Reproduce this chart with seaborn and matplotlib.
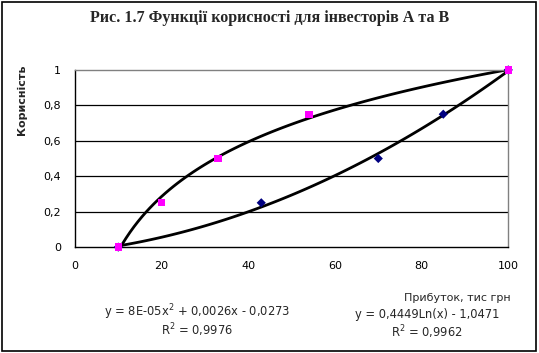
import matplotlib
matplotlib.use("Agg")
import matplotlib.pyplot as plt
import numpy as np
import pandas as pd
import seaborn as sns

# investor A (concave, log trend) and investor B (convex, quadratic trend)
profit_a = [10, 20, 33, 54, 100]
utility_a = [0.0, 0.25, 0.5, 0.75, 1.0]
profit_b = [10, 43, 70, 85, 100]
utility_b = [0.0, 0.25, 0.5, 0.75, 1.0]

x_ticks = [0, 20, 40, 60, 80, 100]
y_ticks = [0, 0.2, 0.4, 0.6, 0.8, 1.0]
y_tick_labels = ["0", "0,2", "0,4", "0,6", "0,8", "1"]

title = "Рис. 1.7 Функції корисності для інвесторів А та В"
eq_b = "y = 8E-05x$^{2}$ + 0,0026x - 0,0273"
r2_b = "R$^{2}$ = 0,9976"
eq_a = "y = 0,4449Ln(x) - 1,0471"
r2_a = "R$^{2}$ = 0,9962"

sns.set_style("white")
plt.rcParams["font.family"] = ["DejaVu Sans"]
plt.rcParams["mathtext.fontset"] = "dejavusans"

df_a = pd.DataFrame({"x": profit_a, "y": utility_a})
df_b = pd.DataFrame({"x": profit_b, "y": utility_b})

fig = plt.figure(figsize=(5.39, 3.53), dpi=100)
ax = fig.add_axes([0.139, 0.30, 0.804, 0.502])

# trendlines fitted by seaborn
sns.regplot(data=df_b, x="x", y="y", order=2, ci=None, scatter=False,
            line_kws={"color": "black", "lw": 2.0}, ax=ax)
sns.regplot(data=df_a, x="x", y="y", logx=True, ci=None, scatter=False,
            line_kws={"color": "black", "lw": 2.0}, ax=ax)

sns.scatterplot(data=df_b, x="x", y="y", marker="D", s=22, color="#000080",
                edgecolor="none", ax=ax, zorder=5, clip_on=False)
sns.scatterplot(data=df_a, x="x", y="y", marker="s", s=28, color="#FF00FF",
                edgecolor="none", ax=ax, zorder=6, clip_on=False)

ax.set_xlim(0, 100)
ax.set_ylim(0, 1)
ax.set_xticks(x_ticks)
ax.set_xticklabels([str(t) for t in x_ticks])
ax.set_yticks(y_ticks)
ax.set_yticklabels(y_tick_labels)
ax.tick_params(axis="both", direction="out", length=4, width=1, colors="black",
               labelsize=8, pad=6)
for yv in y_ticks[1:-1]:
    ax.axhline(yv, color="black", lw=0.9, zorder=1)
ax.spines["left"].set_color("black")
ax.spines["bottom"].set_color("black")
ax.spines["top"].set_color("#808080")
ax.spines["right"].set_color("#808080")
for s in ax.spines.values():
    s.set_linewidth(1)
ax.set_xlabel("")
ax.set_ylabel("")

fig.text(0.5, 0.949, title, ha="center", va="center", fontsize=11.5,
         fontweight="bold", family=["Liberation Serif", "DejaVu Serif"])
fig.text(0.041, 0.717, "Корисність", rotation=90, ha="center", va="center",
         fontsize=8, fontweight="bold")
fig.text(0.948, 0.156, "Прибуток, тис грн", ha="right", va="center", fontsize=8)
fig.text(0.365, 0.116, eq_b, ha="center", va="center", fontsize=8.3)
fig.text(0.365, 0.065, r2_b, ha="center", va="center", fontsize=8.3)
fig.text(0.792, 0.110, eq_a, ha="center", va="center", fontsize=8.3)
fig.text(0.792, 0.060, r2_a, ha="center", va="center", fontsize=8.3)

border = plt.Rectangle((0.004, 0.006), 0.99, 0.988, transform=fig.transFigure,
                       fill=False, edgecolor="black", lw=1.2)
fig.patches.append(border)

fig.savefig("out.png", dpi=100)
